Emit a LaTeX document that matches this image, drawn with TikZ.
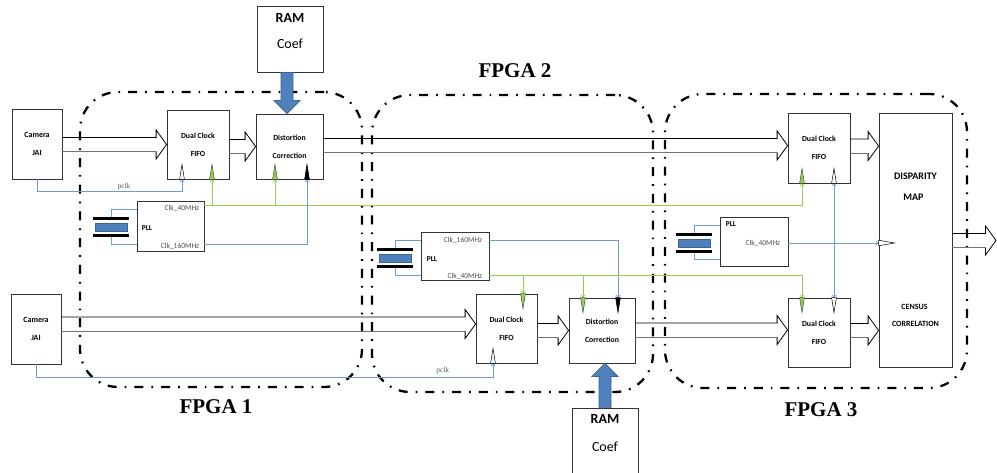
\documentclass[tikz,border=0pt]{standalone}
\usepackage{fontspec}
\setmainfont{Liberation Serif}
\newfontfamily\calfont{Carlito}
\usetikzlibrary{calc,arrows.meta}
\definecolor{lblue}{HTML}{6F9BD3}
\definecolor{lgreen}{HTML}{92D050}
\definecolor{ablue}{HTML}{4F81BD}
\definecolor{abluedark}{HTML}{3A6494}
% hollow double-line block arrow: #1 start node anchor, #2 tip
\newcommand\fatarrow[2]{%
  \coordinate (fa-t) at (#2);
  \coordinate (fa-s) at (fa-t -| #1);
  \draw[line width=0.8pt, black, line join=miter] ($(fa-s)+(0,-7)$) -- ($(fa-t)+(-10.5,-7)$) -- ($(fa-t)+(-10.5,-14.5)$) -- (fa-t) -- ($(fa-t)+(-10.5,14.5)$) -- ($(fa-t)+(-10.5,7)$);
  \draw[line width=0.8pt, black!55] ($(fa-t)+(-10.5,7)$) -- ($(fa-s)+(0,7)$);
}
% filled blue block arrow: #1 start, #2 target node, #3 direction (1 down, -1 up)
\newcommand\bigarrow[3]{%
  \coordinate (ba-s) at (#1);
  \coordinate (ba-t) at (ba-s |- #2);
  \filldraw[fill=ablue, draw=abluedark, line width=0.7pt, line join=miter] ($(ba-s)+(-6,0)$) -- ($(ba-t)+(-6,{-13*(#3)})$) -- ($(ba-t)+(-13,{-13*(#3)})$) -- (ba-t) -- ($(ba-t)+(13,{-13*(#3)})$) -- ($(ba-t)+(6,{-13*(#3)})$) -- ($(ba-s)+(6,0)$) -- cycle;
}
% small clock marker triangle
\newcommand\tickmark[3]{%
  \draw[#3, line width=0.5pt, line join=miter] ($(#1)+(-2.4,0)$) -- ($(#1)+(0,#2)$) -- ($(#1)+(2.4,0)$) -- cycle;
}
% crystal symbol
\newcommand\crystal[2]{%
  \node[xtal] (#1) at (#2) {};
  \draw[line width=3pt] ($(#1.center)+(-18,-8.3)$) -- ++(36,0) ($(#1.center)+(-18,8.3)$) -- ++(36,0);
}
\begin{document}
\begin{tikzpicture}[x=1pt,y=-1pt,
  >={Straight Barb[length=2.2pt,width=4.4pt]},
  box/.style={draw=black!80, line width=0.8pt, inner sep=0pt, align=center, font=\calfont\bfseries\fontsize{7.8}{18}\selectfont},
  fpga/.style={draw=black, line width=2.3pt, dash pattern=on 9pt off 8pt on 1.7pt off 8pt, rounded corners=38pt, inner sep=0pt},
  fpgalabel/.style={font=\bfseries\fontsize{21}{24}\selectfont},
  bl/.style={draw=lblue, line width=0.7pt},
  gl/.style={draw=lgreen, line width=0.7pt},
  clk/.style={font=\calfont\fontsize{7.5}{9}\selectfont, text=black!70, inner sep=0pt},
  plltext/.style={font=\calfont\bfseries\fontsize{7.5}{9}\selectfont, inner sep=0pt},
  pclk/.style={font=\fontsize{7.5}{9}\selectfont, text=black!65, inner sep=1pt},
  ramtext/.style={font=\calfont\bfseries\fontsize{14}{16}\selectfont, inner sep=0pt},
  coeftext/.style={font=\calfont\fontsize{14}{16}\selectfont, inner sep=0pt},
  hollow/.style={draw=black, fill=white},
  gfill/.style={draw=black!70, fill=lgreen},
  kfill/.style={draw=black, fill=black},
  xtal/.style={draw=abluedark, fill=ablue, line width=0.6pt, minimum width=32pt, minimum height=8pt, inner sep=0pt},
]
\useasboundingbox (0,0) rectangle (997,473);

% FPGA regions
\node[fpga, minimum width=282pt, minimum height=295pt] (fpga1) at (221,239.5) {};
\node[fpga, minimum width=281pt, minimum height=297pt] (fpga2) at (512.5,243.5) {};
\node[fpga, minimum width=302pt, minimum height=294pt] (fpga3) at (816,241) {};
\node[fpgalabel] (lab1) at (216,407) {FPGA 1};
\node[fpgalabel] (lab2) at (515,71) {FPGA 2};
\node[fpgalabel] (lab3) at (821,410) {FPGA 3};

% boxes
\node[box, font=\calfont\bfseries\fontsize{8}{18}\selectfont, minimum width=50pt, minimum height=70pt] (cam1) at (37,144) {Camera\\JAI};
\node[box, minimum width=62pt, minimum height=69pt] (fifo1) at (198,144.5) {Dual Clock\\FIFO};
\node[box, minimum width=67pt, minimum height=65pt] (dc1) at (289.5,146.5) {Distortion\\Correction};
\node[box, minimum width=66pt, minimum height=66pt] (ram1) at (290,39) {};
\node[ramtext] (ram1a) at ($(ram1.north)+(0,12)$) {RAM};
\node[coeftext] (ram1b) at ($(ram1.north)+(0,38)$) {Coef};
\node[box, minimum width=67pt, minimum height=50pt] (pll1) at (170.5,226) {};

\node[box, font=\calfont\bfseries\fontsize{8}{18}\selectfont, minimum width=50pt, minimum height=70pt] (cam2) at (36,329) {Camera\\JAI};
\node[box, minimum width=68pt, minimum height=48pt] (pll2) at (455,256) {};
\node[box, minimum width=61pt, minimum height=69pt] (fifo2) at (506.5,328.5) {Dual Clock\\FIFO};
\node[box, minimum width=66pt, minimum height=65pt] (dc2) at (602,330.5) {Distortion\\Correction};
\node[box, minimum width=66pt, minimum height=68pt] (ram2) at (605,442) {};
\node[ramtext] (ram2a) at ($(ram2.north)+(0,11)$) {RAM};
\node[coeftext] (ram2b) at ($(ram2.north)+(0,39)$) {Coef};

\node[box, minimum width=62pt, minimum height=70pt] (fifo3a) at (819,148) {Dual Clock\\FIFO};
\node[box, minimum width=68pt, minimum height=49pt] (pll3) at (754,241.5) {};
\node[box, minimum width=62pt, minimum height=69pt] (fifo3b) at (819,332.5) {Dual Clock\\FIFO};
\node[box, minimum width=73pt, minimum height=254pt] (disp) at (915.5,240) {};
\node[font=\calfont\bfseries\fontsize{10}{12}\selectfont, inner sep=0pt] (dispa) at ($(disp.north)+(0,64)$) {DISPARITY};
\node[font=\calfont\bfseries\fontsize{10}{12}\selectfont, inner sep=0pt] (dispb) at ($(disp.north)+(-2,85)$) {MAP};
\node[font=\calfont\bfseries\fontsize{8}{10}\selectfont, inner sep=0pt] (dispc) at ($(disp.south)+(-1,-60)$) {CENSUS};
\node[font=\calfont\bfseries\fontsize{8}{10}\selectfont, inner sep=0pt] (dispd) at ($(disp.south)+(0,-43)$) {CORRELATION};

% PLL texts
\node[plltext, anchor=west] (pll1t) at ($(pll1.west)+(5,2)$) {PLL};
\node[clk, anchor=east] (pll1a) at ($(pll1.north east)+(-5,8)$) {Clk\_40MHz};
\node[clk, anchor=east] (pll1b) at ($(pll1.south east)+(-5,-4.5)$) {Clk\_160MHz};
\node[plltext, anchor=west] (pll2t) at ($(pll2.west)+(6,3)$) {PLL};
\node[clk, anchor=east] (pll2a) at ($(pll2.north east)+(-7,9)$) {Clk\_160MHz};
\node[clk, anchor=east] (pll2b) at ($(pll2.south east)+(-7,-4)$) {Clk\_40MHz};
\node[plltext, anchor=west] (pll3t) at ($(pll3.north west)+(6,7)$) {PLL};
\node[clk, anchor=east] (pll3a) at ($(pll3.east)+(-8,1.5)$) {Clk\_40MHz};

% crystals
\crystal{xt1}{111,227}
\crystal{xt2}{395,258}
\crystal{xt3}{694,243}
\draw[bl] ($(pll1.north west)+(0,9)$) -| ($(xt1.center)+(0,-9.8)$);
\draw[bl] ($(pll1.south west)+(0,-7)$) -| ($(xt1.center)+(0,9.8)$);
\draw[bl] ($(pll2.north west)+(0,9)$) -| ($(xt2.center)+(0,-9.8)$);
\draw[bl] ($(pll2.south west)+(0,-5)$) -| ($(xt2.center)+(0,9.8)$);
\draw[bl] ($(pll3.north west)+(0,9)$) -| ($(xt3.center)+(0,-9.8)$);
\draw[bl] ($(pll3.south west)+(0,-7)$) -| ($(xt3.center)+(0,9.8)$);

% marker coordinates
\coordinate (f1p) at ($(fifo1.south)+(-16,0)$);
\coordinate (f1g) at ($(fifo1.south)+(14,0)$);
\coordinate (d1g) at ($(dc1.south)+(-14.5,0)$);
\coordinate (d1b) at ($(dc1.south)+(17.5,0)$);
\coordinate (f2p) at ($(fifo2.south)+(-13.5,0)$);
\coordinate (f2g) at ($(fifo2.north)+(16.5,0)$);
\coordinate (d2g) at ($(dc2.north)+(-19,0)$);
\coordinate (d2b) at ($(dc2.north)+(16,0)$);
\coordinate (f3ag) at ($(fifo3a.south)+(-17,0)$);
\coordinate (f3ab) at ($(fifo3a.south)+(15,0)$);
\coordinate (f3bg) at ($(fifo3b.north)+(-17,0)$);
\coordinate (f3bb) at ($(fifo3b.north)+(15,0)$);
\coordinate (dpb) at ($(disp.west)+(0,3)$);
\coordinate (p1a) at ($(pll1.north east)+(0,5)$);
\coordinate (p1b) at ($(pll1.south east)+(0,-7)$);
\coordinate (p2a) at ($(pll2.north east)+(0,9)$);
\coordinate (p2b) at ($(pll2.south east)+(0,-5)$);
\coordinate (p3a) at ($(pll3.east)+(0,1.5)$);
\coordinate (out) at (996,240.5);

% clock lines
\draw[gl,->] (p1a) -| (f3ag);
\draw[gl,->] (p1a -| f1g) -- (f1g);
\draw[gl,->] (p1a -| d1g) -- (d1g);
\draw[bl,->] (p1b) -| (d1b);
\draw[bl,->] (p2a) -| (d2b);
\draw[gl,->] (p2b) -| (f3bg);
\draw[gl,->] (p2b -| f2g) -- (f2g);
\draw[gl,->] (p2b -| d2g) -- (d2g);
\draw[bl,->] (p3a) -- (dpb);
\draw[bl,<->] (f3ab) -- (f3bb);
\draw[bl,->] (cam1.south) |- node[pclk, pos=0.8, above] (pc1) {pclk} ($(f1p)+(0,12)$) -- (f1p);
\draw[bl,->] (cam2.south) |- node[pclk, pos=0.945, above=2pt] (pc2) {pclk} ($(f2p)+(0,14)$) -- (f2p);

% markers
\tickmark{f1p}{-15}{hollow}
\tickmark{f1g}{-15}{gfill}
\tickmark{d1g}{-15}{gfill}
\tickmark{d1b}{-15}{kfill}
\tickmark{f2p}{-15}{hollow}
\tickmark{f2g}{15}{gfill}
\tickmark{d2g}{15}{gfill}
\tickmark{d2b}{15}{kfill}
\tickmark{f3ag}{-15}{gfill}
\tickmark{f3ab}{-15}{hollow}
\tickmark{f3bg}{15}{gfill}
\tickmark{f3bb}{15}{hollow}
\draw[hollow, line width=0.5pt, line join=miter] ($(dpb)+(0,-2.8)$) -- ($(dpb)+(16,0)$) -- ($(dpb)+(0,2.8)$) -- cycle;

% data arrows
\fatarrow{cam1.east}{fifo1.west}
\fatarrow{fifo1.east}{dc1.west}
\fatarrow{dc1.east}{$(fifo3a.west)+(0,-2.5)$}
\fatarrow{fifo3a.east}{$(disp.west |- fifo3a.east)+(0,-2)$}
\fatarrow{cam2.east}{$(fifo2.west)+(0,-4.5)$}
\fatarrow{fifo2.east}{dc2.west}
\fatarrow{dc2.east}{$(fifo3b.west)+(0,-2.5)$}
\fatarrow{fifo3b.east}{$(disp.west |- fifo3b.east)+(0,-2)$}
\fatarrow{disp.east}{out}

% RAM arrows
\bigarrow{$(ram1.south)+(-3,0)$}{dc1.north}{1}
\bigarrow{ram2.north}{dc2.south}{-1}
\end{tikzpicture}
\end{document}
